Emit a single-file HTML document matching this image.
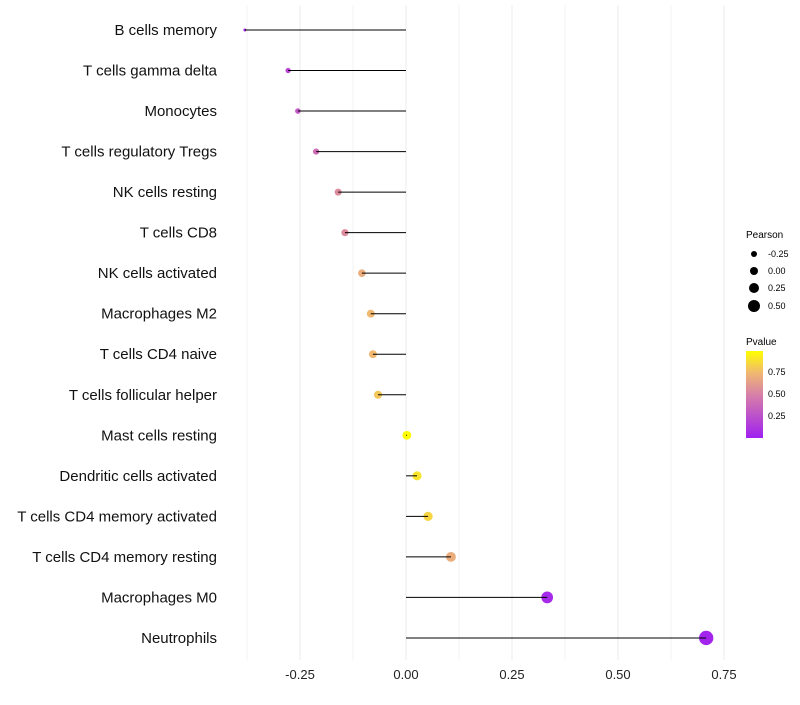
<!DOCTYPE html>
<html><head><meta charset="utf-8"><style>
body{margin:0;background:#fff;font-family:"Liberation Sans",sans-serif}
</style></head><body>
<svg id="chart" width="800" height="700" xmlns="http://www.w3.org/2000/svg">
<defs><linearGradient id="pg" x1="0" y1="1" x2="0" y2="0">
<stop offset="0" stop-color="#a020f0"/><stop offset="0.5" stop-color="#d780a8"/><stop offset="0.75" stop-color="#f0b870"/><stop offset="1" stop-color="#ffff00"/></linearGradient></defs>
<g id="grid"></g><g id="marks"></g><g id="labels"></g>
<g font-size="9">
<text x="746" y="238" font-size="10">Pearson</text>
<circle cx="754" cy="254" r="3"/><text x="768" y="257">-0.25</text>
<circle cx="754" cy="271" r="4"/><text x="768" y="274">0.00</text>
<circle cx="754" cy="288" r="5"/><text x="768" y="291">0.25</text>
<circle cx="754" cy="306" r="6"/><text x="768" y="309">0.50</text>
</g>
<g font-size="9">
<text x="746" y="345" font-size="10">Pvalue</text>
<rect x="746" y="351" width="17" height="87" fill="url(#pg)"/>
<text x="768" y="375">0.75</text><text x="768" y="397">0.50</text><text x="768" y="419">0.25</text>
</g>
</svg>
<script>
const categories=["B cells memory","T cells gamma delta","Monocytes","T cells regulatory  Tregs ","NK cells resting","T cells CD8","NK cells activated","Macrophages M2","T cells CD4 naive","T cells follicular helper","Mast cells resting","Dendritic cells activated","T cells CD4 memory activated","T cells CD4 memory resting","Macrophages M0","Neutrophils"];
const pearson=[-0.38,-0.278,-0.255,-0.212,-0.16,-0.144,-0.104,-0.083,-0.078,-0.066,0.002,0.026,0.052,0.106,0.333,0.708];
const pvalue=[0.05,0.2,0.3,0.4,0.55,0.55,0.7,0.75,0.75,0.8,0.99,0.9,0.85,0.7,0.05,0.02];
const xTicks=[-0.25,0,0.25,0.5,0.75];
const xTickLabels=["-0.25","0.00","0.25","0.50","0.75"];
const NS="http://www.w3.org/2000/svg";
const x=v=>406+v*424;
const y=i=>30+i*40.53;
const rad=v=>Math.sqrt(Math.max(45*(v+0.43),2.2));
function lerp(a,b,t){return Math.round(a+(b-a)*t)}
const stops=[[0,[160,32,240]],[0.5,[215,128,168]],[0.75,[240,184,112]],[1,[255,255,0]]];
function col(p){for(let k=1;k<stops.length;k++){if(p<=stops[k][0]){const a=stops[k-1],b=stops[k],t=(p-a[0])/(b[0]-a[0]);return `rgb(${lerp(a[1][0],b[1][0],t)},${lerp(a[1][1],b[1][1],t)},${lerp(a[1][2],b[1][2],t)})`}}return "rgb(255,255,0)"}
function mk(tag,attrs,parent){const e=document.createElementNS(NS,tag);for(const k in attrs)e.setAttribute(k,attrs[k]);document.getElementById(parent).appendChild(e);return e}
for(let v=-0.375;v<=0.751;v+=0.125){const l=mk("line",{x1:x(v),x2:x(v),y1:5,y2:660,stroke:"#ebebeb","stroke-width":Math.abs((v/0.25)%1)<1e-6?1:0.6},"grid");

}
xTicks.forEach((t,i)=>{const e=mk("text",{x:x(t),y:679,"text-anchor":"middle","font-size":"13",fill:"#222"},"labels");e.textContent=xTickLabels[i];

});
categories.forEach((c,i)=>{
const t=mk("text",{x:217,y:y(i)+5,"text-anchor":"end","font-size":"15",fill:"#111"},"labels");t.textContent=c;


const p=mk("circle",{cx:x(pearson[i]),cy:y(i),r:rad(pearson[i]),fill:col(pvalue[i])},"marks");


const s=mk("line",{x1:x(0),x2:x(pearson[i]),y1:y(i),y2:y(i),stroke:"#000","stroke-width":1},"marks");


});
</script>
</body></html>
